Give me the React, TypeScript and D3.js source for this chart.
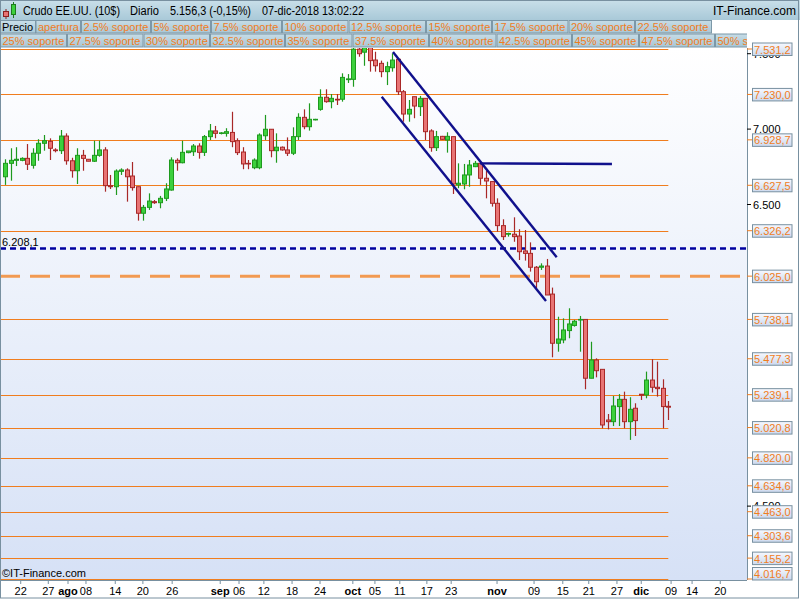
import React from 'react';
import * as d3 from 'd3';

// ---- Data (Crudo EE.UU., daily candles) ----
const opens = [6.684,6.773,6.793,6.793,6.806,6.760,6.840,6.906,6.919,6.862,
6.857,6.954,6.790,6.724,6.826,6.800,6.787,6.826,6.862,6.625,
6.618,6.720,6.729,6.689,6.618,6.442,6.481,6.519,6.512,6.541,
6.596,6.793,6.777,6.844,6.850,6.888,6.846,6.950,6.988,6.972,
6.972,6.978,6.923,6.848,6.773,6.744,6.744,6.956,6.999,6.857,
6.880,6.862,6.840,6.950,7.078,7.016,7.062,7.131,7.211,7.182,
7.198,7.198,7.328,7.330,7.53,7.51,7.64,7.458,7.436,7.381,
7.407,7.463,7.248,7.100,7.215,7.149,7.204,6.988,6.877,6.952,
6.928,6.950,6.630,6.636,6.696,6.751,6.773,6.674,6.652,6.508,
6.360,6.303,6.303,6.291,6.192,6.176,6.084,6.084,6.092,5.906,
5.580,5.602,5.664,5.698,5.735,5.738,5.348,5.469,5.407,5.071,
5.060,5.160,5.208,5.060,5.149,5.242,5.237,5.336,5.288,5.281,5.162];
const highs = [6.800,6.873,6.880,6.813,6.901,6.873,6.933,6.961,6.939,6.873,
6.994,6.972,6.810,6.873,6.862,6.800,6.923,6.923,6.880,6.696,
6.733,6.740,6.740,6.782,6.618,6.497,6.574,6.530,6.557,6.641,
6.813,6.806,6.923,6.855,6.901,6.906,6.961,7.034,7.021,6.980,
7.006,7.115,6.939,6.880,6.795,6.806,6.972,7.094,6.999,6.972,
6.885,6.945,7.012,7.105,7.131,7.171,7.068,7.264,7.264,7.233,
7.233,7.370,7.365,7.560,7.56,7.69,7.66,7.513,7.454,7.447,
7.503,7.470,7.259,7.193,7.215,7.220,7.204,6.999,6.988,6.955,
6.979,6.950,6.773,6.769,6.795,6.789,6.773,6.724,6.652,6.541,
6.402,6.313,6.415,6.336,6.331,6.249,6.092,6.110,6.139,5.949,
5.756,5.745,5.812,5.735,5.761,5.738,5.590,5.480,5.407,5.111,
5.230,5.243,5.259,5.222,5.182,5.242,5.392,5.474,5.458,5.341,5.197];
const lows = [6.630,6.658,6.755,6.787,6.729,6.738,6.790,6.857,6.795,6.846,
6.835,6.764,6.678,6.636,6.724,6.787,6.782,6.817,6.585,6.603,
6.563,6.696,6.519,6.592,6.393,6.393,6.464,6.504,6.475,6.523,
6.592,6.724,6.773,6.840,6.822,6.804,6.822,6.928,6.939,6.965,
6.950,6.880,6.828,6.734,6.734,6.734,6.734,6.928,6.813,6.777,
6.857,6.822,6.828,6.928,6.999,6.990,7.058,7.122,7.175,7.138,
7.160,7.182,7.306,7.281,7.48,7.42,7.381,7.381,7.344,7.292,
7.381,7.226,7.049,7.049,7.072,7.087,6.928,6.850,6.855,6.930,
6.844,6.570,6.608,6.601,6.618,6.748,6.630,6.541,6.486,6.320,
6.265,6.287,6.253,6.132,6.128,6.055,5.945,6.066,5.900,5.487,
5.524,5.580,5.613,5.690,5.524,5.275,5.348,5.354,5.016,5.009,
5.031,5.031,5.016,4.939,4.965,5.204,5.215,5.253,5.226,5.016,5.071];
const closes = [6.773,6.793,6.800,6.806,6.767,6.840,6.906,6.923,6.873,6.857,
6.954,6.790,6.724,6.826,6.806,6.787,6.826,6.862,6.625,6.618,
6.722,6.729,6.684,6.612,6.442,6.481,6.523,6.512,6.541,6.603,
6.795,6.777,6.846,6.855,6.888,6.846,6.950,6.988,6.972,6.975,
6.983,6.917,6.844,6.769,6.769,6.795,6.961,6.999,6.857,6.880,
6.862,6.840,6.950,7.078,7.016,7.065,7.065,7.211,7.182,7.204,
7.193,7.343,7.333,7.53,7.50,7.64,7.454,7.420,7.381,7.414,
7.458,7.248,7.100,7.131,7.153,7.204,6.983,6.877,6.950,6.932,
6.952,6.636,6.641,6.696,6.762,6.773,6.674,6.656,6.508,6.360,
6.287,6.308,6.287,6.187,6.176,6.084,5.988,6.092,5.900,5.580,
5.608,5.668,5.708,5.726,5.738,5.348,5.469,5.398,5.038,5.060,
5.164,5.208,5.060,5.142,5.067,5.235,5.336,5.288,5.279,5.160,5.156];

const levelValues = [7.5312,7.2300,6.9287,6.6275,6.3262,5.7381,5.4773,5.2391,5.0208,4.8200,4.6346,4.4630,4.3036,4.1552,4.0167];
const levelLabels = ["7.531,2","7.230,0","6.928,7","6.627,5","6.326,2","5.738,1","5.477,3","5.239,1","5.020,8","4.820,0","4.634,6","4.463,0","4.303,6","4.155,2","4.016,7"];
const dashedLevel = 6.025;
const dashedLabel = "6.025,0";
const pivotLevel = 6.2081;
const pivotLabel = "6.208,1";
// round price ticks visible on the axis (others hidden behind level labels)
const roundTicks = [7.5, 7.0, 6.5, 4.5];
const roundLabels = ["7.500","7.000","6.500","4.500"];

const xTickPos = [2.79,7.78,11.35,14.6,19.9,24.9,30.2,38.9,42.3,46.8,51.9,56.96,62.9,66.9,71.4,76.3,80.7,89.0,95.7,100.9,105.6,110.7,115.1,120.5,124.3,129.4];
const xTickLabels = ["22","27","ago","08","14","20","26","sep","06","12","18","24","oct","05","11","17","23","nov","09","15","21","27","dic","09","14","20"];
const monthNames = ["ago","sep","oct","nov","dic"];

const channelUpper = [{ i: 70.17, p: 7.511 }, { i: 99.8, p: 6.150 }];
const channelLower = [{ i: 68.13, p: 7.215 }, { i: 97.86, p: 5.860 }];
const resistance = [{ i: 85.92, p: 6.773 }, { i: 109.8, p: 6.769 }];

const headerItems = ["Crudo EE.UU. (10$)", "Diario", "5.156,3 (-0,15%)", "07-dic-2018 13:02:22"];
const legendRow1 = ["apertura","2.5% soporte","5% soporte","7.5% soporte","10% soporte","12.5% soporte","15% soporte","17.5% soporte","20% soporte","22.5% soporte"];
const legendRow2 = ["25% soporte","27.5% soporte","30% soporte","32.5% soporte","35% soporte","37.5% soporte","40% soporte","42.5% soporte","45% soporte","47.5% soporte","50% soporte"];
// layout
const headerX = [23, 130, 170, 262];
const headerW = [97, 29, 81, 102];
const row1Edges = [35.5,81,151,211,282,348.5,426,492,568.5,635,712];
const row2Edges = [0,67,143.5,210,285,352.5,429,496.5,572,639,715,747];

const FONT = '"Liberation Sans", Arial, sans-serif';
const ORANGE = '#F07D1E';

export default function App() {
  const W = 800, H = 600;
  const PL = 0, PR = 747, PT = 48, PB = 580;
  const x = d3.scaleLinear().domain([-0.96, 134.24]).range([PL, PR]);
  const y = d3.scaleLinear().domain([4.0167, 7.5312]).range([579, 49]);
  const lastX = x(closes.length - 1);
  const line = d3.line<{ i: number; p: number }>().x(d => x(d.i)).y(d => y(d.p));

  const candles = closes.map((c, i) => {
    const o = opens[i], h = highs[i], l = lows[i];
    const up = c >= o;
    const cx = Math.round(x(i)) + 0.5;
    const yt = y(Math.max(o, c)), yb = y(Math.min(o, c));
    const stroke = up ? '#1E9A1E' : '#A82828';
    const fill = up ? '#3DD03D' : '#E87474';
    return (
      <g key={i}>
        <line x1={cx} x2={cx} y1={y(h)} y2={y(l)} stroke={stroke} strokeWidth={1.2} />
        <rect x={cx - 2} y={yt} width={4} height={Math.max(yb - yt, 0.6)} fill={fill} stroke={stroke} strokeWidth={1} />
      </g>
    );
  });

  const boxY = (v: number) => Math.min(Math.max(y(v) - 6.5, 42), PB - 13);

  return (
    <svg width={W} height={H} style={{ position: 'absolute', left: 0, top: 0 }} fontFamily={FONT}>
      <defs>
        <linearGradient id="plotBg" x1="0" y1="0" x2="0" y2="1">
          <stop offset="0" stopColor="#FFFFFF" />
          <stop offset="1" stopColor="#D6E1F6" />
        </linearGradient>
        <linearGradient id="hdrBg" x1="0" y1="0" x2="0" y2="1">
          <stop offset="0" stopColor="#C9DFE9" />
          <stop offset="1" stopColor="#A9C9D8" />
        </linearGradient>
        <linearGradient id="legBg" x1="0" y1="0" x2="0" y2="1">
          <stop offset="0" stopColor="#C6DCE6" />
          <stop offset="1" stopColor="#A8C6D4" />
        </linearGradient>
        <linearGradient id="lblBg" x1="0" y1="0" x2="0" y2="1">
          <stop offset="0" stopColor="#F6F8FE" />
          <stop offset="1" stopColor="#CCD9EE" />
        </linearGradient>
        <clipPath id="plotClip"><rect x={PL} y={PT} width={PR - PL} height={PB - PT} /></clipPath>
        <clipPath id="row2Clip"><rect x={0} y={33} width={PR} height={15} /></clipPath>
      </defs>

      <rect x={0} y={0} width={W} height={H} fill="#FFFFFF" />
      <rect x={PL} y={PT} width={PR - PL} height={PB - PT} fill="url(#plotBg)" />

      {/* header */}
      <rect x={0} y={0} width={W} height={20} fill="url(#hdrBg)" />
      <g>
        <line x1={6} x2={6} y1={9} y2={19} stroke="#8A2020" />
        <rect x={3.5} y={11.5} width={5} height={5} fill="#E87474" stroke="#8A2020" />
        <line x1={13.5} x2={13.5} y1={2} y2={18} stroke="#1E7A1E" />
        <rect x={11.5} y={4.5} width={4} height={10} fill="#3DD03D" stroke="#1E7A1E" />
      </g>
      {headerItems.map((t, k) => (
        <text key={t} x={headerX[k]} y={15} fontSize={12} fill="#000" textLength={headerW[k]} lengthAdjust="spacingAndGlyphs">{t}</text>
      ))}
      <text x={796} y={15} fontSize={12} fill="#000" textAnchor="end" textLength={83} lengthAdjust="spacingAndGlyphs">IT-Finance.com</text>

      {/* legend row 1 */}
      <rect x={0.5} y={20.5} width={35} height={12.5} fill="url(#hdrBg)" stroke="#7C98A8" />
      <text x={2} y={31} fontSize={11} fill="#000">Precio</text>
      {legendRow1.map((t, k) => (
        <g key={t}>
          <rect x={row1Edges[k] + 0.5} y={20.5} width={row1Edges[k + 1] - row1Edges[k] - 1} height={12.5} fill="url(#legBg)" stroke="#7C98A8" />
          <text x={row1Edges[k] + 2.5} y={31} fontSize={11} fill={ORANGE}>{t}</text>
        </g>
      ))}
      {/* legend row 2 */}
      <g clipPath="url(#row2Clip)">
        {legendRow2.map((t, k) => (
          <g key={t}>
            <rect x={row2Edges[k] + 0.5} y={34} width={(row2Edges[k + 1] ?? 780) - row2Edges[k] - 1 + (k === legendRow2.length - 1 ? 40 : 0)} height={13} fill="url(#legBg)" stroke="#7C98A8" />
            <text x={row2Edges[k] + 2.5} y={45} fontSize={11} fill={ORANGE}>{t}</text>
          </g>
        ))}
      </g>

      {/* support levels */}
      {levelValues.map((v, k) => (
        <line key={'lv' + k} x1={PL} x2={lastX} y1={Math.round(y(v)) + 0.5} y2={Math.round(y(v)) + 0.5} stroke={ORANGE} strokeWidth={1} />
      ))}
      <line x1={PL} x2={PR} y1={y(dashedLevel)} y2={y(dashedLevel)} stroke="#F29A52" strokeWidth={3} strokeDasharray="20,10" />
      <line x1={PL} x2={PR} y1={y(pivotLevel)} y2={y(pivotLevel)} stroke="#0000A0" strokeWidth={2.4} strokeDasharray="6,4" />
      <text x={2} y={y(pivotLevel) - 3} fontSize={11} fill="#000">{pivotLabel}</text>

      {/* candles */}
      <g clipPath="url(#plotClip)">{candles}</g>

      {/* channel lines */}
      <path d={line(channelUpper) || ''} stroke="#10108C" strokeWidth={2.4} fill="none" />
      <path d={line(channelLower) || ''} stroke="#10108C" strokeWidth={2.4} fill="none" />
      <path d={line(resistance) || ''} stroke="#10108C" strokeWidth={2.4} fill="none" />

      <text x={2} y={577} fontSize={11} fill="#000">©IT-Finance.com</text>

      {/* frame of plot */}
      <line x1={PR + 0.5} x2={PR + 0.5} y1={PT} y2={PB} stroke="#7890A0" />
      <line x1={0} x2={PR} y1={PB + 0.5} y2={PB + 0.5} stroke="#7890A0" />

      {/* y axis: round ticks */}
      {roundTicks.map((v, k) => (
        <g key={'rt' + k}>
          <line x1={PR} x2={PR + 4} y1={y(v)} y2={y(v)} stroke="#000" />
          <text x={PR + 6} y={y(v) + 4} fontSize={11} fill="#000">{roundLabels[k]}</text>
        </g>
      ))}
      {/* y axis: level labels */}
      {[...levelValues, dashedLevel].map((v, k) => {
        const label = k < levelLabels.length ? levelLabels[k] : dashedLabel;
        const by = boxY(v);
        return (
          <g key={'lb' + k}>
            <line x1={PR} x2={PR + 5} y1={y(v)} y2={y(v)} stroke={ORANGE} />
            <rect x={752.5} y={by + 0.5} width={39.5} height={12.5} fill="url(#lblBg)" stroke="#7890A0" />
            <text x={754} y={by + 11} fontSize={11} fill={ORANGE}>{label}</text>
          </g>
        );
      })}

      {/* x axis */}
      {xTickPos.map((p, k) => (
        <g key={'xt' + k}>
          <line x1={x(p)} x2={x(p)} y1={PB} y2={PB + 4} stroke="#7890A0" />
          <text x={x(p)} y={595} fontSize={11} textAnchor="middle" fill="#000"
            fontWeight={monthNames.includes(xTickLabels[k]) ? 'bold' : 'normal'}>{xTickLabels[k]}</text>
        </g>
      ))}

      <rect x={0.5} y={0.5} width={798} height={597.5} fill="none" stroke="#7890A0" />
    </svg>
  );
}
